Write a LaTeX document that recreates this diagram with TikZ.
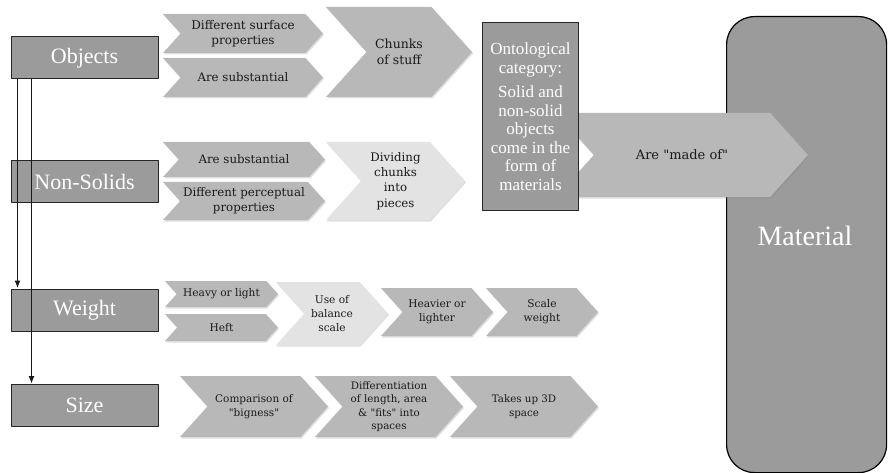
\documentclass[tikz,border=0pt]{standalone}
\usepackage{fontspec}
\setmainfont{Liberation Serif}
\newfontfamily\chevfont{DejaVu Serif}
\usetikzlibrary{shadows,arrows.meta}
\definecolor{boxgray}{HTML}{9B9B9B}
\definecolor{chevgray}{HTML}{B8B8B8}
\definecolor{chevlight}{HTML}{E3E3E3}
\definecolor{chevtxt}{HTML}{1A1A1A}
\tikzset{
  catbox/.style={draw=black!85,line width=1pt,fill=boxgray,text=white,
    minimum width=147pt,minimum height=42pt,font=\fontsize{22}{24}\selectfont},
  chevron/.style={drop shadow={shadow xshift=1pt,shadow yshift=-1.5pt,opacity=.25}},
  chevtext/.style={text=chevtxt,align=center,inner sep=0pt},
  downarrow/.style={-{Latex[length=8pt,width=6pt]},line width=1.6pt,black!90},
}
\begin{document}
\begin{tikzpicture}[x=1pt,y=-1pt,line join=round]
			\useasboundingbox (0,0) rectangle (888,473);
			% material block on the right
			\node[draw=black,line width=1.2pt,fill=boxgray,rounded corners=28pt,
			  minimum width=160pt,minimum height=456pt,anchor=north west] (material) at (726,16) {};
			\node[text=white,font=\fontsize{28}{30}\selectfont] (materialtxt) at (805,236) {Material};
			% chevrons: name/x1/y1/x2/y2/fill/size/text
			\foreach \n/\xa/\ya/\xb/\yb/\c/\fs/\t in {
			  madeof/556/113/808/197/chevgray/13/{Are "made of"},
			  ds/163/14/323/53/chevgray/12/{Different surface\\properties},
			  as/163/58/323/97/chevgray/11.8/{Are substantial},
			  chunks/326/7/472/97/chevgray/12.5/{Chunks\\of stuff},
			  asb/163/142/325/177/chevgray/11.8/{Are substantial},
			  dp/163/182/325/220/chevgray/11.8/{Different perceptual\\properties},
			  divide/326/142/465/220/chevlight/11.8/{Dividing\\chunks\\into\\pieces},
			  heavy/165/281/278/307/chevgray/10.6/{Heavy or light},
			  heft/165/314/278/341/chevgray/10.6/{Heft},
			  balance/276/282/388/345/chevlight/10.6/{Use of\\balance\\scale},
			  heavier/381/288/493/336/chevgray/10.6/{Heavier or\\lighter},
			  scale/486/288/598/336/chevgray/10.6/{Scale\\weight},
			  bigness/180/376/328/437/chevgray/10.5/{Comparison of\\"bigness"},
			  differ/315/376/463/437/chevgray/10.3/{Differentiation\\of length, area\\\& "fits" into\\spaces},
			  takes/450/376/598/437/chevgray/10.3/{Takes up 3D\\space}}
			{
			  \pgfmathsetmacro\d{0.45*(\yb-\ya)}
			  \pgfmathsetmacro\ym{(\ya+\yb)/2}
			  \pgfmathsetmacro\ls{\fs*1.3}
			  \path[chevron,fill=\c] (\xa,\ya) -- (\xb-\d,\ya) -- (\xb,\ym) -- (\xb-\d,\yb)
			    -- (\xa,\yb) -- (\xa+\d,\ym) -- cycle;
			  \node[chevtext,font={\chevfont\fontsize{\fs}{\ls}\selectfont}] (\n) at ({(\xa+\xb)/2},\ym) {\t};
			}
			% ontological category
			\node[draw=black!85,line width=1pt,fill=boxgray,text=white,align=center,
			  minimum width=96pt,minimum height=188pt,inner sep=1pt,anchor=north west,
			  font=\fontsize{17}{18.5}\selectfont] (onto) at (482,22)
			  {Ontological\\category:\\[6pt]Solid and\\non-solid\\objects\\come in the\\form of\\materials};
			% categories on the left
			\node[catbox] (objects) at (84.5,58) {Objects};
			\node[catbox] (nonsolids) at (84.5,181.5) {Non-Solids};
			\node[catbox] (weight) at (84.5,310) {Weight};
			\node[catbox] (size) at (84.5,405.5) {Size};
			\draw[downarrow] ([xshift=7pt]objects.south west) -- ([xshift=7pt]weight.north west);
			\draw[downarrow] ([xshift=21pt]objects.south west) -- ([xshift=21pt]size.north west);
		\end{tikzpicture}
\end{document}
